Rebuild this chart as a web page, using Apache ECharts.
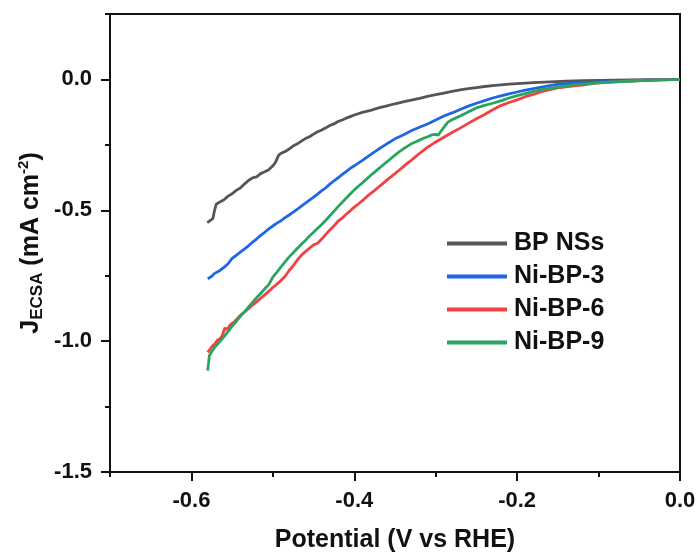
<!DOCTYPE html>
<html>
<head>
<meta charset="utf-8">
<script src="https://cdn.jsdelivr.net/npm/echarts@6/dist/echarts.min.js"></script>
<style>
html,body{margin:0;padding:0;background:#fff;}
#chart{width:699px;height:554px;}
</style>
</head>
<body>
<div id="chart"></div>
<script>
const seriesNames = ['BP NSs', 'Ni-BP-3', 'Ni-BP-6', 'Ni-BP-9'];
const seriesColors = ['#555555', '#1f66e0', '#f04242', '#28a55e'];
const xMajorTicks = [-0.6, -0.4, -0.2, 0.0];
const yMajorTicks = [-1.5, -1.0, -0.5, 0.0];

const bpNSs = [
 [-0.5806,-0.547],[-0.5737,-0.532],[-0.5716,-0.500],[-0.5696,-0.477],[-0.565,-0.468],[-0.560,-0.460],
 [-0.555,-0.446],[-0.550,-0.437],[-0.545,-0.424],[-0.540,-0.415],[-0.535,-0.400],[-0.530,-0.386],
 [-0.525,-0.376],[-0.520,-0.372],[-0.515,-0.360],[-0.510,-0.353],[-0.505,-0.345],[-0.500,-0.330],
 [-0.497,-0.318],[-0.493,-0.290],[-0.490,-0.282],[-0.485,-0.276],[-0.480,-0.266],[-0.475,-0.254],
 [-0.470,-0.246],[-0.465,-0.236],[-0.460,-0.226],[-0.455,-0.219],[-0.450,-0.209],[-0.445,-0.200],
 [-0.440,-0.193],[-0.435,-0.185],[-0.430,-0.176],[-0.425,-0.170],[-0.420,-0.161],[-0.415,-0.155],
 [-0.410,-0.148],[-0.405,-0.142],[-0.400,-0.136],[-0.39,-0.126],[-0.38,-0.118],[-0.37,-0.109],
 [-0.36,-0.101],[-0.35,-0.093],[-0.34,-0.086],[-0.33,-0.079],[-0.32,-0.072],[-0.31,-0.065],
 [-0.30,-0.058],[-0.29,-0.052],[-0.28,-0.046],[-0.27,-0.040],[-0.26,-0.035],[-0.25,-0.031],
 [-0.24,-0.027],[-0.23,-0.024],[-0.22,-0.021],[-0.21,-0.018],[-0.20,-0.016],[-0.18,-0.012],
 [-0.16,-0.009],[-0.14,-0.007],[-0.12,-0.005],[-0.10,-0.004],[-0.08,-0.003],[-0.06,-0.002],
 [-0.04,-0.001],[-0.02,-0.001],[0,0]
];
const niBP3 = [
 [-0.580,-0.762],[-0.578,-0.757],[-0.575,-0.752],[-0.572,-0.742],[-0.570,-0.745],[-0.565,-0.730],
 [-0.560,-0.718],[-0.555,-0.704],[-0.550,-0.684],[-0.545,-0.672],[-0.540,-0.660],[-0.535,-0.648],
 [-0.530,-0.636],[-0.525,-0.622],[-0.520,-0.610],[-0.515,-0.596],[-0.510,-0.584],[-0.505,-0.571],
 [-0.500,-0.560],[-0.495,-0.549],[-0.490,-0.540],[-0.485,-0.528],[-0.480,-0.518],[-0.475,-0.507],
 [-0.470,-0.496],[-0.465,-0.484],[-0.460,-0.473],[-0.455,-0.461],[-0.450,-0.450],[-0.445,-0.438],
 [-0.440,-0.425],[-0.435,-0.414],[-0.430,-0.400],[-0.425,-0.388],[-0.420,-0.376],[-0.415,-0.364],
 [-0.410,-0.352],[-0.405,-0.340],[-0.400,-0.330],[-0.39,-0.309],[-0.38,-0.287],[-0.37,-0.266],
 [-0.36,-0.246],[-0.35,-0.227],[-0.34,-0.212],[-0.33,-0.196],[-0.32,-0.183],[-0.31,-0.170],
 [-0.30,-0.155],[-0.29,-0.140],[-0.28,-0.128],[-0.27,-0.115],[-0.26,-0.102],[-0.25,-0.091],
 [-0.24,-0.081],[-0.23,-0.071],[-0.22,-0.063],[-0.21,-0.055],[-0.20,-0.048],[-0.19,-0.041],
 [-0.18,-0.035],[-0.17,-0.029],[-0.16,-0.024],[-0.15,-0.019],[-0.14,-0.016],[-0.13,-0.014],
 [-0.12,-0.012],[-0.10,-0.009],[-0.08,-0.007],[-0.06,-0.005],[-0.04,-0.003],[-0.02,-0.001],[0,0]
];
const niBP6 = [
 [-0.580,-1.043],[-0.577,-1.030],[-0.574,-1.018],[-0.571,-1.010],[-0.568,-0.996],[-0.565,-0.992],
 [-0.562,-0.978],[-0.559,-0.950],[-0.556,-0.955],[-0.553,-0.940],[-0.550,-0.932],[-0.547,-0.925],
 [-0.544,-0.915],[-0.541,-0.905],[-0.538,-0.897],[-0.535,-0.889],[-0.530,-0.876],[-0.525,-0.862],
 [-0.520,-0.850],[-0.515,-0.836],[-0.510,-0.823],[-0.505,-0.810],[-0.500,-0.795],[-0.495,-0.782],
 [-0.490,-0.768],[-0.485,-0.752],[-0.480,-0.730],[-0.475,-0.712],[-0.470,-0.690],[-0.465,-0.672],
 [-0.460,-0.658],[-0.455,-0.645],[-0.450,-0.632],[-0.445,-0.626],[-0.440,-0.610],[-0.435,-0.592],
 [-0.430,-0.575],[-0.425,-0.560],[-0.420,-0.542],[-0.415,-0.530],[-0.410,-0.515],[-0.405,-0.502],
 [-0.400,-0.488],[-0.395,-0.476],[-0.390,-0.463],[-0.385,-0.449],[-0.380,-0.436],[-0.375,-0.424],
 [-0.370,-0.411],[-0.365,-0.398],[-0.360,-0.385],[-0.355,-0.372],[-0.350,-0.360],[-0.345,-0.347],
 [-0.340,-0.334],[-0.335,-0.321],[-0.330,-0.309],[-0.325,-0.296],[-0.320,-0.283],[-0.315,-0.271],
 [-0.310,-0.259],[-0.305,-0.249],[-0.300,-0.239],[-0.29,-0.221],[-0.28,-0.203],[-0.27,-0.186],
 [-0.26,-0.168],[-0.25,-0.150],[-0.24,-0.134],[-0.23,-0.116],[-0.22,-0.100],[-0.21,-0.088],
 [-0.20,-0.078],[-0.19,-0.066],[-0.18,-0.057],[-0.17,-0.047],[-0.16,-0.039],[-0.15,-0.032],
 [-0.14,-0.028],[-0.13,-0.025],[-0.12,-0.022],[-0.11,-0.017],[-0.10,-0.013],[-0.08,-0.009],
 [-0.06,-0.006],[-0.04,-0.004],[-0.02,-0.002],[0,0]
];
const niBP9 = [
 [-0.580,-1.113],[-0.579,-1.085],[-0.578,-1.055],[-0.576,-1.045],[-0.573,-1.030],[-0.570,-1.018],
 [-0.566,-1.005],[-0.562,-0.990],[-0.558,-0.975],[-0.554,-0.960],[-0.550,-0.942],[-0.545,-0.925],
 [-0.540,-0.905],[-0.535,-0.888],[-0.530,-0.870],[-0.525,-0.852],[-0.520,-0.834],[-0.515,-0.818],
 [-0.510,-0.800],[-0.505,-0.784],[-0.500,-0.755],[-0.495,-0.736],[-0.490,-0.716],[-0.485,-0.697],
 [-0.480,-0.678],[-0.475,-0.662],[-0.470,-0.646],[-0.465,-0.630],[-0.460,-0.615],[-0.455,-0.598],
 [-0.450,-0.584],[-0.445,-0.569],[-0.440,-0.554],[-0.435,-0.538],[-0.430,-0.521],[-0.425,-0.504],
 [-0.420,-0.486],[-0.415,-0.470],[-0.410,-0.454],[-0.405,-0.438],[-0.400,-0.422],[-0.395,-0.408],
 [-0.390,-0.395],[-0.385,-0.381],[-0.380,-0.367],[-0.375,-0.354],[-0.370,-0.341],[-0.365,-0.328],
 [-0.360,-0.315],[-0.355,-0.302],[-0.350,-0.289],[-0.345,-0.277],[-0.340,-0.266],[-0.335,-0.256],
 [-0.330,-0.246],[-0.325,-0.239],[-0.320,-0.232],[-0.315,-0.225],[-0.310,-0.219],[-0.305,-0.212],
 [-0.300,-0.210],[-0.297,-0.213],[-0.294,-0.200],[-0.290,-0.183],[-0.285,-0.163],[-0.280,-0.154],
 [-0.275,-0.147],[-0.270,-0.140],[-0.26,-0.124],[-0.25,-0.109],[-0.24,-0.099],[-0.23,-0.091],
 [-0.22,-0.082],[-0.21,-0.071],[-0.20,-0.062],[-0.19,-0.054],[-0.18,-0.046],[-0.17,-0.039],
 [-0.16,-0.034],[-0.15,-0.029],[-0.14,-0.025],[-0.13,-0.021],[-0.12,-0.018],[-0.10,-0.013],
 [-0.08,-0.009],[-0.06,-0.006],[-0.04,-0.004],[-0.02,-0.002],[0,0]
];
const seriesData = [bpNSs, niBP3, niBP6, niBP9];

const FONT = "'Liberation Sans', Arial, sans-serif";
const INK = '#111111';
const chart = echarts.init(document.getElementById('chart'), null, {renderer: 'canvas'});

const axisLineStyle = {color: INK, width: 2};

chart.setOption({
  backgroundColor: '#ffffff',
  animation: false,
  grid: {left: 110, right: 19, top: 14, bottom: 82, containLabel: false, outerBoundsMode: 'none',
         show: true, borderColor: INK, borderWidth: 2, backgroundColor: 'transparent'},
  legend: {
    orient: 'vertical', left: 447, top: 231, itemWidth: 60, itemHeight: 4, itemGap: 8, padding: 0,
    icon: 'rect',
    data: seriesNames,
    textStyle: {fontFamily: FONT, fontWeight: 'bold', fontSize: 25, color: INK, padding: [0, 0, 0, 2]}
  },
  xAxis: [
    {type: 'value', min: -0.7, max: 0, interval: 0.1, position: 'bottom',
     axisLine: {show: true, onZero: false, lineStyle: axisLineStyle},
     axisTick: {show: true, length: 5, lineStyle: axisLineStyle},
     axisLabel: {show: false}, splitLine: {show: false},
     name: 'Potential (V vs RHE)', nameLocation: 'middle', nameGap: 56,
     nameTextStyle: {fontFamily: FONT, fontWeight: 'bold', fontSize: 25, color: INK}},
    {type: 'value', min: -0.7, max: 0, position: 'bottom',
     axisLine: {show: false, onZero: false},
     axisTick: {show: true, length: 9, customValues: xMajorTicks, lineStyle: axisLineStyle},
     axisLabel: {show: true, customValues: xMajorTicks, margin: 18, formatter: v => v.toFixed(1),
                 fontFamily: FONT, fontWeight: 'bold', fontSize: 22, color: INK},
     splitLine: {show: false}}
  ],
  yAxis: [
    {type: 'value', min: -1.5, max: 0.25, interval: 0.25, position: 'left',
     axisLine: {show: true, onZero: false, lineStyle: axisLineStyle},
     axisTick: {show: true, length: 5, lineStyle: axisLineStyle},
     axisLabel: {show: false}, splitLine: {show: false},
     name: '{m|J}{s|ECSA}{m| (mA cm}{p|-2}{m|)}', nameLocation: 'middle', nameGap: 64, nameRotate: 90,
     nameTextStyle: {
       fontFamily: FONT, fontWeight: 'bold', color: INK,
       rich: {
         m: {fontFamily: FONT, fontWeight: 'bold', fontSize: 25, color: INK, lineHeight: 30, verticalAlign: 'middle'},
         s: {fontFamily: FONT, fontWeight: 'bold', fontSize: 17, color: INK, lineHeight: 17, verticalAlign: 'bottom'},
         p: {fontFamily: FONT, fontWeight: 'bold', fontSize: 15, color: INK, lineHeight: 15, verticalAlign: 'top'}
       }
     }},
    {type: 'value', min: -1.5, max: 0.25, position: 'left',
     axisLine: {show: false, onZero: false},
     axisTick: {show: true, length: 9, customValues: yMajorTicks, lineStyle: axisLineStyle},
     axisLabel: {show: true, customValues: yMajorTicks, margin: 18, formatter: v => v.toFixed(1),
                 fontFamily: FONT, fontWeight: 'bold', fontSize: 22, color: INK},
     splitLine: {show: false}}
  ],
  series: seriesNames.map((name, i) => ({
    name: name, type: 'line', xAxisIndex: 0, yAxisIndex: 0,
    data: seriesData[i], showSymbol: false, symbol: 'none',
    lineStyle: {color: seriesColors[i], width: 2.8},
    itemStyle: {color: seriesColors[i]},
    z: 2 + (i === 3 ? 1 : 0)
  }))
});
</script>
</body>
</html>
